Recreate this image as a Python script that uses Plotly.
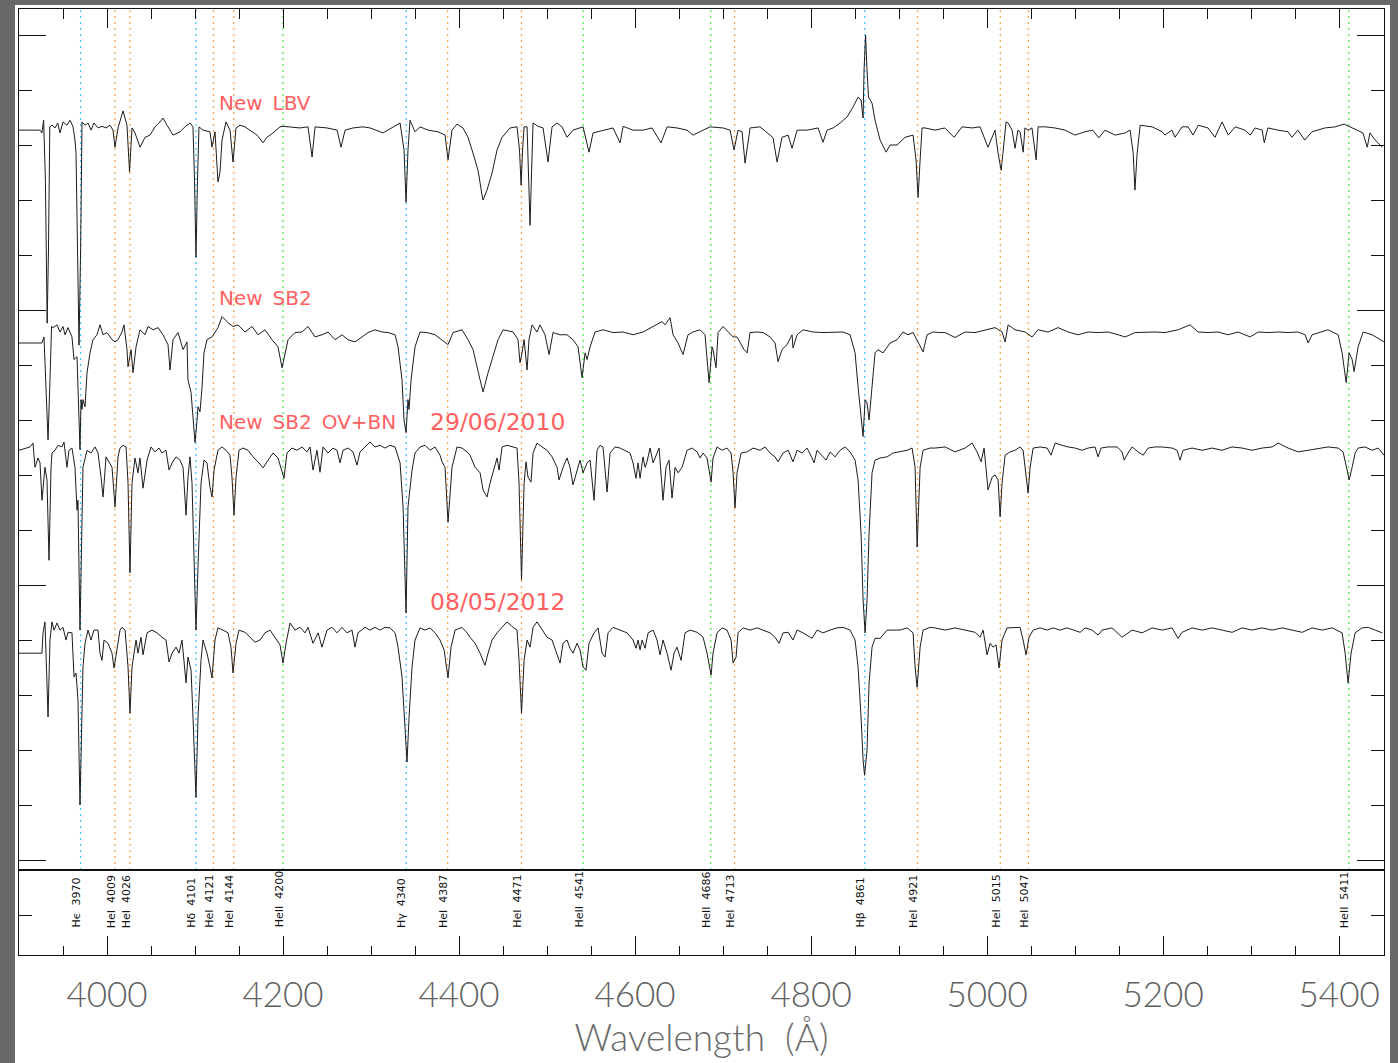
import plotly.graph_objects as go

# ---------------- data (wavelength in Angstrom, flux normalised to continuum) -------------
lbv_points = [
    (3900, 0.998), (3924, 0.998), (3926, 0.993), (3928, 1.016), (3930, 0.907), (3932, 0.647),
    (3933.5, 0.78), (3935, 1.004), (3937.5, 1.007), (3941, 1.002), (3944, 1.011), (3946.6, 0.993),
    (3950, 1.013), (3954.5, 1.007), (3958, 1.016), (3961.4, 1.004), (3963.6, 0.98), (3964.8, 0.956),
    (3966.5, 0.78), (3968.2, 0.607), (3970, 0.78), (3971.6, 1.013), (3975, 1.007), (3978.4, 1.011),
    (3981.8, 0.998), (3985.2, 1.011), (3989.8, 1.002), (3994.3, 1.005), (3998.9, 1.002), (4003.4, 1.007),
    (4006.8, 0.998), (4009.1, 0.967), (4012.5, 1.002), (4018.2, 1.033), (4022.7, 1.007), (4025.6, 0.922),
    (4028.4, 1.002), (4031.8, 0.993), (4037.5, 0.967), (4043.2, 0.985), (4048.9, 0.989), (4054.5, 1.004),
    (4060.2, 1.013), (4063.6, 1.02), (4068.2, 1.007), (4075, 0.989), (4083, 0.995), (4088.6, 1.004),
    (4094.3, 1.011), (4097.7, 1.004), (4099.4, 0.907), (4101.1, 0.767), (4102.8, 0.907), (4104.5, 1.004),
    (4109.1, 0.998), (4117, 0.995), (4119.3, 0.967), (4122.7, 0.995), (4126.1, 0.904), (4128.4, 0.922),
    (4130.7, 0.98), (4135.2, 1.013), (4139.8, 0.998), (4143.2, 0.94), (4146.6, 1.002), (4151.1, 1.007),
    (4156.8, 1.004), (4162.5, 0.998), (4170.5, 0.989), (4177.3, 0.975), (4181.8, 0.985), (4188.6, 0.993),
    (4196.6, 1.004), (4200, 1.005), (4208, 1.004), (4219.3, 1.002), (4228.4, 1.004), (4233, 0.949),
    (4236.4, 1.004), (4250, 1.002), (4261.4, 0.998), (4265.9, 0.967), (4270.5, 0.998), (4279.5, 1.002),
    (4290.9, 1.004), (4298.9, 1.002), (4313.6, 0.993), (4323.9, 1.002), (4333, 1.011), (4337.5, 0.962),
    (4339.8, 0.867), (4342, 0.962), (4344.3, 1.016), (4350, 0.995), (4355.7, 1.004), (4364.8, 0.998),
    (4376.1, 0.995), (4384.1, 0.989), (4387.5, 0.944), (4392, 0.998), (4397.7, 1.009), (4404.5, 1.002),
    (4410.2, 0.985), (4415.9, 0.956), (4421.6, 0.925), (4426.1, 0.88), (4427.3, 0.871), (4431.8, 0.889),
    (4437.5, 0.92), (4443.2, 0.962), (4448.9, 0.985), (4458, 1.002), (4465.9, 1.004), (4468.7, 0.962),
    (4470.5, 0.898), (4472.2, 0.962), (4473.9, 1.004), (4477.3, 1.004), (4479, 0.922), (4480.7, 0.825),
    (4482.4, 0.922), (4484.1, 1.011), (4489.8, 1.005), (4495.5, 1.002), (4501.1, 0.94), (4505.7, 1.004),
    (4511.4, 1.011), (4517, 1.004), (4522.7, 0.985), (4529.5, 0.998), (4540.9, 1.004), (4547.7, 0.958),
    (4552.3, 0.993), (4563.6, 0.998), (4575, 1.002), (4583, 0.975), (4586.4, 1.005), (4597.7, 0.998),
    (4609.1, 0.998), (4619.3, 1.002), (4629.5, 0.975), (4636.4, 1.004), (4647.7, 1.002), (4659.1, 0.998),
    (4665.9, 0.989), (4677.3, 0.998), (4685.2, 1.004), (4700, 1.002), (4708, 0.998), (4712.5, 0.962),
    (4717, 0.998), (4721.6, 0.995), (4725, 0.938), (4730.7, 1.002), (4742, 1.004), (4753.4, 0.989),
    (4756.8, 0.984), (4761.4, 0.94), (4767, 0.985), (4773.9, 0.989), (4778.4, 0.965), (4784.1, 0.998),
    (4795.5, 0.998), (4808, 1.002), (4813.6, 0.976), (4818.2, 0.998), (4825, 1.002), (4833, 1.011),
    (4840.9, 1.022), (4847.7, 1.04), (4853.4, 1.058), (4856.8, 1.053), (4859.1, 1.02), (4860.2, 1.107),
    (4861.9, 1.171), (4863.6, 1.107), (4865.3, 1.058), (4869.3, 1.047), (4872.7, 1.016), (4878.4, 0.98),
    (4885.2, 0.958), (4889.8, 0.971), (4897.7, 0.971), (4906.8, 0.985), (4915.9, 0.989), (4919.3, 0.944),
    (4921.6, 0.876), (4923.9, 0.944), (4926.1, 1.002), (4929.5, 1.002), (4941, 0.998), (4952, 1.002),
    (4962.5, 0.985), (4971.6, 1.004), (4983, 1.002), (4992, 1.004), (4996.6, 0.985), (5001, 0.967),
    (5005.7, 0.985), (5009, 0.998), (5012.5, 0.956), (5016, 0.925), (5018, 0.956), (5021.6, 1.013),
    (5024, 1.011), (5028.4, 0.998), (5031.8, 0.965), (5035, 0.998), (5037.5, 0.995), (5041, 0.958),
    (5043, 1.002), (5046.6, 0.998), (5051, 1.002), (5055.7, 0.944), (5058, 1.004), (5066, 1.004),
    (5077, 1.002), (5088.6, 0.998), (5100, 0.989), (5111, 0.995), (5120, 0.998), (5127, 0.984),
    (5134, 0.998), (5145.5, 0.989), (5157, 0.993), (5162.5, 0.998), (5166, 0.956), (5168, 0.889),
    (5170.5, 0.956), (5174, 1.007), (5187.5, 1.004), (5199, 0.995), (5202, 0.989), (5210, 0.998),
    (5213.6, 0.985), (5221.6, 1.004), (5228.4, 1.004), (5234, 0.989), (5240, 1.007), (5251, 1.002),
    (5259, 0.985), (5267, 1.013), (5274, 0.989), (5282, 1.004), (5293, 0.998), (5299, 0.989),
    (5304.5, 1.002), (5312.5, 0.998), (5315, 0.975), (5319, 1.002), (5330.7, 0.998), (5342, 0.995),
    (5346.6, 0.985), (5353, 0.998), (5361, 0.98), (5369, 0.995), (5384, 1.002), (5395.5, 1.004),
    (5405.7, 1.009), (5414.8, 1.002), (5421.6, 0.998), (5427, 0.993), (5432, 0.967), (5435, 0.993),
    (5441, 0.98), (5449, 0.967),
]

sb2_points = [
    (3900, 0.985), (3926, 0.985), (3928.4, 0.996), (3930.7, 0.9), (3933, 0.809), (3935.2, 0.918),
    (3937, 1.015), (3938.6, 1.013), (3943.2, 1.018), (3946.6, 1.005), (3950, 1.015), (3952.3, 1.0),
    (3955.7, 1.013), (3960.2, 0.996), (3962.5, 0.955), (3965.9, 0.96), (3967.6, 0.864), (3969.3, 0.791),
    (3970.5, 0.882), (3971.6, 0.864), (3972.7, 0.882), (3975, 0.869), (3977.3, 0.931), (3980.7, 0.967),
    (3984.1, 0.991), (3988.6, 1.0), (3992, 1.018), (3995.5, 1.0), (4000, 1.004), (4005.7, 0.991),
    (4009.1, 0.987), (4012.5, 0.991), (4017, 1.005), (4019.3, 1.018), (4022.7, 0.973), (4023.9, 0.942),
    (4027.3, 0.973), (4029.5, 0.931), (4033, 0.978), (4037.5, 1.009), (4043.2, 1.0), (4046.6, 1.015),
    (4052.3, 1.009), (4058, 1.013), (4063.6, 1.0), (4069.3, 0.982), (4071.6, 0.936), (4075, 0.991),
    (4080.7, 1.004), (4086.4, 0.973), (4090.9, 0.987), (4092, 0.918), (4095.5, 0.895), (4097.7, 0.845),
    (4100, 0.804), (4102.3, 0.845), (4103.4, 0.869), (4105.7, 0.86), (4108, 0.905), (4110.2, 0.967),
    (4113.6, 0.991), (4119.3, 0.996), (4122.7, 1.004), (4126.1, 1.013), (4130.7, 1.033), (4134.1, 1.027),
    (4137.5, 1.022), (4143.2, 1.015), (4148.9, 1.018), (4156.8, 1.005), (4164.8, 1.015), (4171.6, 1.0),
    (4179.5, 1.009), (4187.5, 0.991), (4194.3, 0.978), (4198.9, 0.94), (4202.3, 0.967), (4205.7, 0.991),
    (4213.6, 1.004), (4221.6, 1.005), (4228.4, 1.015), (4236.4, 0.996), (4244.3, 1.0), (4251.1, 1.005),
    (4259.1, 0.991), (4267, 1.0), (4273.9, 0.991), (4281.8, 0.987), (4289.8, 0.996), (4296.6, 1.004),
    (4304.5, 1.009), (4312.5, 1.005), (4319.3, 1.004), (4327.3, 1.0), (4330.7, 0.978), (4335.2, 0.918),
    (4337.5, 0.845), (4339.8, 0.822), (4342, 0.882), (4343.2, 0.864), (4345.5, 0.918), (4350, 0.978),
    (4355.7, 1.005), (4363.6, 1.004), (4372.7, 1.0), (4380.7, 0.991), (4387.5, 0.982), (4393.2, 1.004),
    (4403.4, 1.009), (4410.2, 0.991), (4415.9, 0.973), (4423.9, 0.918), (4427.3, 0.896), (4433, 0.931),
    (4438.6, 0.96), (4444.3, 0.991), (4450, 1.009), (4461.4, 1.005), (4467, 0.991), (4469.3, 0.949),
    (4471.6, 0.967), (4473.9, 0.991), (4477.3, 0.936), (4479.5, 0.991), (4483, 1.018), (4488.6, 1.005),
    (4492, 1.018), (4497.7, 1.0), (4502.3, 0.964), (4506.8, 1.004), (4514.8, 1.0), (4522.7, 1.0),
    (4529.5, 0.991), (4535.2, 0.978), (4539.8, 0.922), (4543.2, 0.967), (4545.5, 0.955), (4548.9, 0.978),
    (4554.5, 1.005), (4563.6, 1.009), (4575, 1.004), (4586.4, 1.005), (4597.7, 1.0), (4609.1, 1.005),
    (4620.5, 1.015), (4630.7, 1.024), (4634.1, 1.018), (4639.8, 1.031), (4643.2, 1.0), (4648.9, 0.985),
    (4654.5, 0.964), (4660.2, 1.0), (4665.9, 1.005), (4673.9, 1.009), (4679.5, 1.0), (4681.8, 0.955),
    (4684.1, 0.913), (4687.5, 0.978), (4688.6, 0.973), (4692, 0.94), (4694.3, 1.004), (4700, 1.015),
    (4705.7, 1.005), (4711.4, 0.996), (4715.9, 0.996), (4719.3, 0.987), (4723.9, 0.973), (4727.3, 0.967),
    (4730.7, 1.004), (4738.6, 1.005), (4745.5, 1.004), (4753.4, 0.996), (4759.1, 0.985), (4762.5, 0.951),
    (4767, 0.973), (4772.7, 0.982), (4778.4, 1.0), (4779.5, 0.976), (4784.1, 1.0), (4790.9, 1.009),
    (4802.3, 1.005), (4813.6, 1.004), (4825, 1.004), (4836.4, 1.005), (4844.3, 1.0), (4850, 0.967),
    (4853.4, 0.905), (4856.8, 0.845), (4859.1, 0.815), (4861.4, 0.882), (4863.6, 0.876), (4865.9, 0.845),
    (4869.3, 0.905), (4872.7, 0.967), (4876.1, 0.973), (4881.8, 0.967), (4889.8, 0.985), (4897.7, 0.991),
    (4904.5, 1.005), (4910.2, 1.0), (4915.9, 1.004), (4921.6, 0.987), (4927.3, 0.969), (4931.8, 1.0),
    (4938.6, 1.005), (4946.6, 1.004), (4952.3, 1.004), (4963.6, 0.995), (4975, 1.005), (4986.4, 1.004),
    (4997.7, 1.009), (5009.1, 1.013), (5017, 1.005), (5020.5, 0.987), (5023.9, 1.018), (5031.8, 1.009),
    (5043.2, 1.005), (5051.1, 0.996), (5058, 1.009), (5069.3, 1.005), (5080.7, 1.013), (5092, 1.005),
    (5103.4, 1.0), (5114.8, 1.005), (5126.1, 1.004), (5137.5, 1.005), (5148.9, 1.0), (5156.8, 0.996),
    (5168.2, 1.004), (5179.5, 1.005), (5190.9, 1.005), (5202.3, 1.004), (5217, 1.009), (5230.7, 1.018),
    (5239.8, 1.005), (5251.1, 1.004), (5262.5, 1.005), (5273.9, 1.0), (5285.2, 1.005), (5298.9, 0.996),
    (5308, 1.005), (5319.3, 1.004), (5330.7, 1.005), (5342, 1.004), (5353.4, 1.005), (5361.4, 1.0),
    (5364.8, 0.985), (5369.3, 1.0), (5380.7, 1.005), (5387.5, 1.009), (5398.9, 1.0), (5403.4, 0.967),
    (5408, 0.913), (5411.4, 0.967), (5414.8, 0.955), (5417, 0.933), (5421.6, 0.978), (5427.3, 1.005),
    (5437.5, 1.0), (5446.6, 0.991), (5451, 0.987),
]

ovbn_points = [
    (3900, 0.996), (3906.8, 1.0), (3912.5, 1.002), (3915.9, 1.009), (3918.2, 0.965), (3921.6, 0.982),
    (3923.9, 0.973), (3926.1, 0.905), (3929.5, 0.965), (3931.8, 0.942), (3934.1, 0.796), (3936.4, 0.965),
    (3937.5, 0.991), (3940.9, 0.996), (3944.3, 1.005), (3948.9, 1.002), (3951.1, 1.011), (3954.5, 0.965),
    (3956.8, 0.996), (3960.2, 1.0), (3963.6, 0.965), (3965.9, 0.887), (3967, 0.905), (3969.3, 0.669),
    (3971, 0.796), (3972.7, 0.965), (3977.3, 0.996), (3981.8, 0.991), (3986.4, 1.002), (3989.8, 0.991),
    (3993.2, 0.947), (3995.5, 0.911), (3998.9, 0.984), (4002.3, 0.973), (4005.7, 0.965), (4009.1, 0.893),
    (4012.5, 0.984), (4014.8, 1.0), (4018.2, 1.005), (4021.6, 1.002), (4023.9, 0.936), (4026.1, 0.773),
    (4028.4, 0.936), (4031.8, 0.982), (4035.2, 0.955), (4037.5, 0.982), (4040.9, 0.927), (4045.5, 0.978),
    (4050, 1.002), (4054.5, 0.993), (4059.1, 1.0), (4062.5, 0.991), (4067, 0.996), (4070.5, 0.96),
    (4073.9, 0.973), (4078.4, 0.984), (4083, 0.978), (4086.4, 0.965), (4089.8, 0.878), (4092, 0.947),
    (4094.3, 0.984), (4096.6, 0.936), (4098.9, 0.784), (4101.1, 0.669), (4103.4, 0.784), (4106.8, 0.936),
    (4110.2, 0.978), (4113.6, 0.973), (4117, 0.929), (4119.3, 0.911), (4121.6, 0.96), (4126.1, 0.996),
    (4130.7, 1.002), (4135.2, 0.996), (4139.8, 0.987), (4142, 0.947), (4144.3, 0.878), (4146.6, 0.947),
    (4150, 0.996), (4154.5, 1.0), (4160.2, 0.996), (4165.9, 0.984), (4171.6, 0.975), (4177.3, 0.964),
    (4183, 0.978), (4188.6, 0.991), (4194.3, 0.982), (4198.9, 0.956), (4201.1, 0.945), (4204.5, 0.991),
    (4210.2, 1.0), (4215.9, 0.996), (4221.6, 1.002), (4227.3, 0.993), (4230.7, 1.002), (4234.1, 0.96),
    (4238.6, 0.996), (4242, 0.956), (4245.5, 1.002), (4251.1, 0.991), (4256.8, 1.0), (4261.4, 0.996),
    (4264.8, 0.973), (4268.2, 0.996), (4273.9, 1.0), (4279.5, 0.993), (4284.1, 0.969), (4287.5, 0.993),
    (4293.2, 1.002), (4298.9, 1.011), (4304.5, 1.002), (4310.2, 1.005), (4315.9, 1.0), (4321.6, 1.005),
    (4327.3, 1.002), (4333, 0.973), (4336.4, 0.893), (4339.8, 0.7), (4342, 0.893), (4346.6, 0.96),
    (4350, 0.991), (4355.7, 1.002), (4361.4, 1.005), (4367, 0.996), (4372.7, 1.002), (4378.4, 0.987),
    (4380.7, 0.975), (4384.1, 0.965), (4387.5, 0.865), (4392, 0.965), (4397.7, 1.002), (4403.4, 1.0),
    (4409.1, 0.993), (4412.5, 0.987), (4418.2, 0.965), (4423.9, 0.955), (4427.3, 0.924), (4431.8, 0.911),
    (4435.2, 0.936), (4438.6, 0.956), (4443.2, 0.982), (4445.5, 0.96), (4448.9, 1.002), (4454.5, 1.005),
    (4461.4, 1.002), (4465.9, 1.0), (4468.2, 0.936), (4471, 0.76), (4473.9, 0.936), (4476.1, 0.975),
    (4478.4, 0.947), (4481.8, 0.938), (4484.1, 0.991), (4488.6, 1.009), (4494.3, 1.002), (4500, 0.996),
    (4505.7, 0.984), (4511.4, 0.965), (4513.6, 0.942), (4518.2, 0.965), (4522.7, 0.982), (4526.1, 0.965),
    (4529.5, 0.933), (4534.1, 0.96), (4537.5, 0.978), (4540.9, 0.955), (4545.5, 0.973), (4548.9, 0.978),
    (4553.4, 0.905), (4556.8, 0.996), (4560.2, 1.005), (4563.6, 1.002), (4568.2, 0.92), (4571.6, 0.991),
    (4577.3, 1.002), (4583, 1.0), (4588.6, 0.996), (4594.3, 0.991), (4597.7, 0.973), (4601.1, 0.945),
    (4603.4, 0.973), (4605.7, 0.945), (4609.1, 0.984), (4611.4, 0.965), (4613.6, 0.975), (4617, 1.0),
    (4620.5, 0.973), (4625, 0.991), (4627.3, 1.0), (4631.8, 0.905), (4635.2, 0.965), (4638.6, 0.978),
    (4642, 0.909), (4645.5, 0.965), (4648.9, 0.955), (4653.4, 0.965), (4659.1, 0.996), (4664.8, 1.0),
    (4670.5, 0.993), (4673.9, 0.982), (4677.3, 0.991), (4681.8, 0.982), (4686.4, 0.938), (4688.6, 0.982),
    (4693.2, 1.002), (4698.9, 0.996), (4704.5, 1.0), (4709.1, 0.991), (4711.4, 0.955), (4713.6, 0.891),
    (4715.9, 0.955), (4720.5, 0.991), (4727.3, 0.993), (4734.1, 1.0), (4742, 0.996), (4747.7, 1.002),
    (4753.4, 0.991), (4759.1, 0.984), (4762.5, 0.975), (4768.2, 0.991), (4773.9, 0.996), (4779.5, 0.975),
    (4784.1, 0.996), (4789.8, 0.991), (4795.5, 1.0), (4801.1, 0.982), (4803.4, 0.973), (4806.8, 0.996),
    (4812.5, 0.987), (4817, 0.978), (4821.6, 0.993), (4827.3, 0.984), (4833, 0.996), (4838.6, 1.002),
    (4844.3, 0.993), (4850, 0.978), (4853.4, 0.942), (4856.8, 0.845), (4859.1, 0.724), (4861.4, 0.664),
    (4863.6, 0.724), (4865.9, 0.845), (4869.3, 0.955), (4872.7, 0.978), (4878.4, 0.982), (4886.4, 0.984),
    (4893.2, 0.991), (4901.1, 0.993), (4909.1, 0.996), (4914.8, 1.0), (4918.2, 0.965), (4920.5, 0.82),
    (4923.9, 0.965), (4927.3, 0.996), (4935.2, 1.0), (4940.9, 1.0), (4952.3, 1.002), (4963.6, 0.993),
    (4975, 1.0), (4983, 1.009), (4988.6, 0.993), (4993.2, 0.975), (4996.6, 1.0), (5001.1, 0.924),
    (5005.7, 0.947), (5009.1, 0.951), (5012.5, 0.942), (5014.8, 0.875), (5017, 0.936), (5020.5, 0.987),
    (5026.1, 0.993), (5031.8, 0.996), (5037.5, 1.002), (5040.9, 0.996), (5044.3, 0.947), (5046.6, 0.918),
    (5048.9, 0.965), (5052.3, 1.0), (5060.2, 1.002), (5068.2, 1.0), (5072.7, 0.987), (5077.3, 1.009),
    (5085.2, 1.005), (5092, 1.002), (5100, 1.0), (5108, 0.996), (5114.8, 1.0), (5122.7, 1.002),
    (5126.1, 0.984), (5129.5, 1.0), (5137.5, 1.002), (5147.7, 1.002), (5153.4, 0.993), (5155.7, 0.978),
    (5160.2, 0.991), (5164.8, 1.002), (5171.6, 0.993), (5177.3, 0.987), (5183, 1.0), (5190.9, 1.002),
    (5198.9, 1.002), (5210.2, 1.0), (5215.9, 0.996), (5219.3, 0.978), (5222.7, 0.996), (5233, 1.0),
    (5244.3, 0.996), (5255.7, 1.0), (5267, 0.996), (5278.4, 1.002), (5289.8, 1.0), (5301.1, 0.996),
    (5312.5, 1.0), (5323.9, 1.002), (5330.7, 1.009), (5342, 1.0), (5353.4, 0.993), (5364.8, 0.996),
    (5376.1, 1.0), (5387.5, 1.002), (5398.9, 1.0), (5404.5, 0.993), (5409.1, 0.96), (5411.4, 0.942),
    (5414.8, 0.965), (5418.2, 0.991), (5421.6, 1.0), (5429.5, 1.002), (5437.5, 0.996), (5444.3, 1.0),
    (5451, 0.987),
]

may_points = [
    (3900, 0.958), (3926.1, 0.958), (3927.3, 0.995), (3929.5, 1.015), (3931.3, 0.927), (3933, 0.842),
    (3935.2, 0.982), (3937.5, 1.015), (3939.8, 1.0), (3943.2, 1.013), (3946.6, 1.0), (3950, 1.005),
    (3953.4, 0.982), (3955.7, 0.996), (3960.2, 0.995), (3962.5, 0.915), (3964.8, 0.922), (3967, 0.873),
    (3969.3, 0.682), (3971.6, 0.842), (3972.7, 0.933), (3975, 0.976), (3978.4, 1.0), (3981.8, 0.982),
    (3985.2, 1.0), (3989.8, 1.0), (3992, 0.958), (3994.3, 0.945), (3996.6, 0.982), (4001.1, 0.976),
    (4005.7, 0.958), (4008, 0.931), (4012.5, 0.982), (4014.8, 1.0), (4017, 1.005), (4020.5, 1.0),
    (4023.9, 0.933), (4026.1, 0.849), (4028.4, 0.933), (4033, 0.982), (4035.2, 0.958), (4038.6, 0.987),
    (4040.9, 0.955), (4045.5, 0.995), (4051.1, 1.0), (4056.8, 0.995), (4062.5, 0.987), (4067, 0.982),
    (4070.5, 0.942), (4073.9, 0.958), (4078.4, 0.969), (4081.8, 0.958), (4085.2, 0.982), (4089.8, 0.904),
    (4092, 0.951), (4095.5, 0.927), (4097.7, 0.842), (4101.1, 0.696), (4103.4, 0.842), (4106.8, 0.945),
    (4109.1, 0.982), (4113.6, 0.958), (4117, 0.933), (4119.3, 0.913), (4122.7, 0.982), (4126.1, 1.004),
    (4131.8, 1.0), (4137.5, 0.995), (4140.9, 0.969), (4143.2, 0.922), (4146.6, 0.976), (4150, 1.0),
    (4156.8, 0.996), (4162.5, 0.987), (4168.2, 0.978), (4173.9, 0.982), (4179.5, 0.995), (4185.2, 1.0),
    (4190.9, 0.987), (4196.6, 0.973), (4200, 0.94), (4203.4, 0.976), (4208, 1.013), (4213.6, 1.0),
    (4219.3, 1.005), (4225, 0.995), (4228.4, 1.005), (4234.1, 0.976), (4239.8, 0.995), (4244.3, 0.969),
    (4250, 1.0), (4255.7, 1.005), (4261.4, 0.995), (4267, 1.005), (4272.7, 0.995), (4278.4, 1.0),
    (4281.8, 0.969), (4285.2, 0.995), (4293.2, 1.005), (4298.9, 1.0), (4304.5, 1.005), (4310.2, 1.0),
    (4315.9, 1.005), (4321.6, 1.004), (4327.3, 0.995), (4330.7, 0.969), (4335.2, 0.915), (4337.5, 0.842),
    (4340.9, 0.76), (4343.2, 0.842), (4346.6, 0.933), (4350, 0.982), (4355.7, 1.004), (4361.4, 1.0),
    (4367, 1.004), (4372.7, 0.995), (4378.4, 0.982), (4383, 0.964), (4387.5, 0.913), (4390.9, 0.969),
    (4395.5, 1.0), (4403.4, 1.005), (4409.1, 0.995), (4412.5, 0.987), (4418.2, 0.976), (4423.9, 0.958),
    (4429.5, 0.936), (4433, 0.958), (4437.5, 0.982), (4443.2, 0.995), (4448.9, 1.005), (4454.5, 1.015),
    (4461.4, 1.005), (4465.9, 1.0), (4468.2, 0.945), (4471, 0.849), (4473.9, 0.945), (4477.3, 0.982),
    (4480.7, 0.969), (4484.1, 1.005), (4488.6, 1.015), (4494.3, 1.0), (4500, 0.987), (4505.7, 0.982),
    (4511.4, 0.958), (4514.8, 0.94), (4518.2, 0.976), (4522.7, 0.982), (4526.1, 0.967), (4529.5, 0.958),
    (4534.1, 0.976), (4537.5, 0.964), (4540.9, 0.933), (4544.3, 0.927), (4547.7, 0.976), (4553.4, 0.995),
    (4558, 1.004), (4562.5, 0.958), (4565.9, 0.951), (4569.3, 0.995), (4575, 1.005), (4583, 1.0),
    (4590.9, 0.995), (4597.7, 0.982), (4601.1, 0.967), (4603.4, 0.982), (4605.7, 0.964), (4608, 0.982),
    (4611.4, 0.967), (4614.8, 0.995), (4620.5, 1.0), (4625, 0.982), (4628.4, 0.955), (4631.8, 0.982),
    (4636.4, 0.958), (4640.9, 0.927), (4644.3, 0.958), (4647.7, 0.969), (4652.3, 0.945), (4656.8, 0.995),
    (4662.5, 1.0), (4670.5, 0.996), (4677.3, 0.987), (4681.8, 0.958), (4686.4, 0.918), (4688.6, 0.958),
    (4693.2, 0.995), (4698.9, 1.004), (4704.5, 1.0), (4709.1, 0.982), (4711.4, 0.94), (4714.8, 0.951),
    (4717, 0.995), (4722.7, 1.004), (4730.7, 1.0), (4738.6, 1.004), (4745.5, 1.0), (4753.4, 0.995),
    (4759.1, 0.987), (4763.6, 0.976), (4768.2, 0.995), (4773.9, 0.996), (4779.5, 0.982), (4784.1, 1.0),
    (4790.9, 0.995), (4801.1, 0.985), (4806.8, 1.0), (4813.6, 0.995), (4821.6, 1.0), (4829.5, 1.004),
    (4836.4, 1.005), (4844.3, 1.0), (4850, 0.982), (4853.4, 0.933), (4856.8, 0.842), (4859.1, 0.764),
    (4860.8, 0.736), (4863.6, 0.782), (4865.9, 0.904), (4869.3, 0.969), (4872.7, 0.985), (4878.4, 0.985),
    (4886.4, 1.0), (4893.2, 1.0), (4901.1, 1.0), (4909.1, 1.004), (4915.9, 0.995), (4918.2, 0.933),
    (4920.5, 0.896), (4923.9, 0.969), (4927.3, 1.0), (4935.2, 1.005), (4940.9, 1.004), (4952.3, 1.0),
    (4963.6, 1.004), (4975, 1.0), (4986.4, 0.996), (4992, 0.987), (4995.5, 1.0), (5000, 0.955),
    (5003.4, 0.976), (5006.8, 0.969), (5010.2, 0.973), (5013.6, 0.931), (5017, 0.982), (5022.7, 1.004),
    (5029.5, 1.005), (5037.5, 1.005), (5040.9, 0.982), (5044.3, 0.955), (5047.7, 0.987), (5052.3, 1.0),
    (5060.2, 1.004), (5068.2, 1.0), (5075, 1.004), (5083, 1.0), (5090.9, 1.004), (5097.7, 1.0),
    (5105.7, 0.996), (5111.4, 1.004), (5119.3, 1.0), (5126.1, 0.991), (5130.7, 1.0), (5142, 1.004),
    (5153.4, 0.987), (5164.8, 1.0), (5176.1, 0.995), (5187.5, 1.004), (5198.9, 1.0), (5210.2, 1.004),
    (5217, 0.985), (5221.6, 0.996), (5233, 1.004), (5244.3, 1.0), (5255.7, 1.004), (5267, 1.0),
    (5278.4, 0.996), (5289.8, 1.004), (5301.1, 1.0), (5312.5, 1.004), (5323.9, 1.0), (5335.2, 1.004),
    (5346.6, 1.0), (5358, 0.996), (5369.3, 1.004), (5380.7, 1.0), (5392, 1.004), (5403.4, 0.995),
    (5406.8, 0.958), (5410.2, 0.904), (5413.6, 0.958), (5418.2, 0.995), (5426.1, 1.004), (5433, 1.005),
    (5441, 1.0), (5449, 0.995),
]

# vertical offset (continuum level) of each stacked spectrum
spectra_names = ["New LBV", "New SB2", "New SB2 OV+BN 29/06/2010", "08/05/2012"]
spectra_levels = [1.329, 0.955, 0.749, 0.418]

# identified lines
line_waves = [3970, 4009, 4026, 4101, 4121, 4144, 4200, 4340, 4387, 4471, 4541,
              4686, 4713, 4861, 4921, 5015, 5047, 5411]
line_ions = ["Hϵ", "HeI", "HeI", "Hδ", "HeI", "HeI", "HeII", "Hγ", "HeI", "HeI", "HeII",
             "HeII", "HeI", "Hβ", "HeI", "HeI", "HeI", "HeII"]
line_kind = ["H", "HeI", "HeI", "H", "HeI", "HeI", "HeII", "H", "HeI", "HeI", "HeII",
             "HeII", "HeI", "H", "HeI", "HeI", "HeI", "HeII"]
kind_colors = {"H": "#45c4f5", "HeI": "#f8a64c", "HeII": "#55e855"}

x_ticks = [4000, 4200, 4400, 4600, 4800, 5000, 5200, 5400]

# ---------------- figure -------------------------------------------------------------
fig = go.Figure()

for pts, lvl in zip([lbv_points, sb2_points, ovbn_points, may_points], spectra_levels):
    w = [p[0] for p in pts]
    f = [p[1] - 1.0 + lvl for p in pts]
    fig.add_trace(go.Scatter(x=w, y=f, mode="lines", xaxis="x", yaxis="y",
                             line=dict(color="#1c1c1c", width=1), hoverinfo="skip",
                             showlegend=False))

# dummy trace to keep the top axis alive
fig.add_trace(go.Scatter(x=[], y=[], xaxis="x2", yaxis="y", showlegend=False))

shapes = []
# white page area inside the grey frame
shapes.append(dict(type="rect", xref="paper", yref="paper", x0=-0.00293, x1=1.0044,
                   y0=-0.12, y1=1.00423, fillcolor="white", line=dict(width=0), layer="below"))
for w, k in zip(line_waves, line_kind):
    shapes.append(dict(type="line", xref="x", yref="y domain", x0=w, x1=w, y0=0, y1=1,
                       line=dict(color=kind_colors[k], width=1.3, dash="2px,4px"), layer="below"))

annotations = []
for w, ion in zip(line_waves, line_ions):
    annotations.append(dict(x=w, y=-0.127, xref="x", yref="y2", text=f"{ion}\u00a0\u00a0{w}",
                            textangle=-90, showarrow=False, xanchor="center", yanchor="bottom",
                            xshift=-4, font=dict(family="DejaVu Sans", size=11, color="#111")))

red = "#ff5f5f"
red_font = dict(family="DejaVu Sans", size=20, color=red)
date_font = dict(family="DejaVu Sans", size=23.5, color=red)
annotations += [
    dict(x=4125, y=1.376, xref="x", yref="y", text="New\u2002LBV", showarrow=False,
         xanchor="left", yanchor="middle", font=red_font),
    dict(x=4125, y=1.022, xref="x", yref="y", text="New\u2002SB2", showarrow=False,
         xanchor="left", yanchor="middle", font=red_font),
    dict(x=4125, y=0.796, xref="x", yref="y", text="New\u2002SB2\u2002OV+BN", showarrow=False,
         xanchor="left", yanchor="middle", font=red_font),
    dict(x=4365, y=0.796, xref="x", yref="y", text="29/06/2010", showarrow=False,
         xanchor="left", yanchor="middle", font=date_font),
    dict(x=4365, y=0.469, xref="x", yref="y", text="08/05/2012", showarrow=False,
         xanchor="left", yanchor="middle", font=date_font),
]

axis_font = dict(family="Lato", size=35, color="#606060", weight=300)

fig.update_layout(
    width=1398, height=1063,
    margin=dict(l=19, r=14, t=9, b=108, autoexpand=False),
    paper_bgcolor="#686868", plot_bgcolor="white",
    shapes=shapes, annotations=annotations,
    showlegend=False,
    xaxis=dict(anchor="y2", domain=[0, 1], range=[3900, 5451], tickvals=x_ticks,
               ticks="inside", ticklen=19, tickwidth=1, tickcolor="#111",
               minor=dict(dtick=50, tick0=4000, ticks="inside", ticklen=9, tickwidth=1, tickcolor="#111"),
               showline=True, linecolor="#111", linewidth=1, mirror=True,
               showgrid=False, zeroline=False, tickfont=axis_font, automargin=False,
               ticklabelstandoff=9,
               title=dict(text="Wavelength\u00a0\u00a0(Å)",
                          font=dict(family="Lato", size=37, color="#6a6a6a", weight=300),
                          standoff=2)),
    xaxis2=dict(anchor="y", overlaying="x", side="top", matches="x", range=[3900, 5451],
                tickvals=x_ticks, ticks="inside", ticklen=19, tickwidth=1, tickcolor="#111",
                minor=dict(dtick=50, tick0=4000, ticks="inside", ticklen=10, tickwidth=1, tickcolor="#111"),
                showticklabels=False, showline=True, linecolor="#111", linewidth=1, mirror=True,
                showgrid=False, zeroline=False, automargin=False),
    yaxis=dict(domain=[0.089852, 1], range=[-0.01818, 1.54727], tick0=0, dtick=0.5,
               ticks="inside", ticklen=27, tickwidth=1, tickcolor="#111",
               minor=dict(dtick=0.1, ticks="inside", ticklen=13, tickwidth=1, tickcolor="#111"),
               showticklabels=False, showline=True, linecolor="#111", linewidth=1, mirror="ticks",
               showgrid=False, zeroline=False, automargin=False),
    yaxis2=dict(domain=[0, 0.089852], range=[-0.17273, -0.01818], tick0=0, dtick=0.5,
                ticks="inside", ticklen=27, tickwidth=1, tickcolor="#111",
                minor=dict(dtick=0.1, ticks="inside", ticklen=13, tickwidth=1, tickcolor="#111"),
                showticklabels=False, showline=True, linecolor="#111", linewidth=1, mirror="ticks",
                showgrid=False, zeroline=False, automargin=False),
)

fig.write_html("out.html", config={"displayModeBar": False},
               post_script="document.body.style.margin='0';")
